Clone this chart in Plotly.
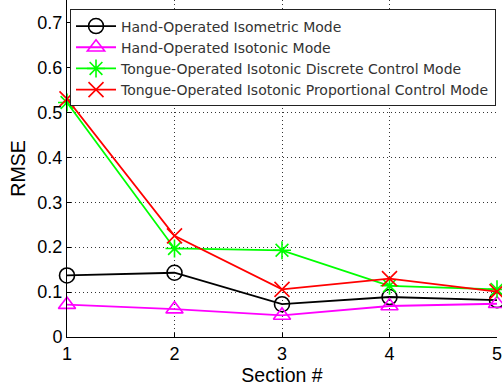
import plotly.graph_objects as go

sections = [1, 2, 3, 4, 5]
hand_isometric = [0.137, 0.143, 0.073, 0.089, 0.082]
hand_isotonic = [0.072, 0.062, 0.048, 0.069, 0.074]
tongue_discrete = [0.522, 0.197, 0.193, 0.114, 0.106]
tongue_proportional = [0.530, 0.225, 0.106, 0.130, 0.101]

series = [
    ("Hand-Operated Isometric Mode", hand_isometric, "#000000", "circle-open"),
    ("Hand-Operated Isotonic Mode", hand_isotonic, "#FF00FF", "triangle-up-open"),
    ("Tongue-Operated Isotonic Discrete Control Mode", tongue_discrete, "#00FF00", "asterisk-open"),
    ("Tongue-Operated Isotonic Proportional Control Mode", tongue_proportional, "#FF0000", "x-thin-open"),
]

fig = go.Figure()
for name, vals, color, sym in series:
    fig.add_trace(go.Scatter(
        x=sections, y=vals, name=name, mode="lines+markers",
        line=dict(color=color, width=1.8),
        marker=dict(symbol=sym, size=15, color=color, line=dict(color=color, width=1.6)),
        cliponaxis=False,
    ))

tick_font = dict(family="Arial, Liberation Sans, sans-serif", size=18, color="black")
title_font = dict(family="Arial, Liberation Sans, sans-serif", size=19.5, color="black")
grid_style = dict(showgrid=True, gridcolor="#333333", griddash="1px,3px", gridwidth=1)

fig.update_layout(
    width=502, height=389,
    margin=dict(l=67, r=3, t=0, b=52),
    paper_bgcolor="white", plot_bgcolor="white",
    font=dict(family="Arial, Liberation Sans, sans-serif", color="black"),
    showlegend=True,
    legend=dict(
        x=0.007, y=0.972, xanchor="left", yanchor="top",
        bgcolor="white", bordercolor="#222222", borderwidth=1,
        font=dict(family="DejaVu Sans, sans-serif", size=14, color="#333333"),
        tracegroupgap=0, itemwidth=40,
    ),
    xaxis=dict(
        range=[1, 5], tickvals=sections, ticktext=[str(s) for s in sections],
        tickfont=tick_font, ticks="inside", ticklen=4, tickcolor="black",
        ticklabeloverflow="allow",
        showline=True, linecolor="black", linewidth=1,
        zeroline=False,
        title=dict(text="Section #", font=title_font, standoff=2),
        **grid_style,
    ),
    yaxis=dict(
        range=[0, 0.75], tickvals=[0, 0.1, 0.2, 0.3, 0.4, 0.5, 0.6, 0.7],
        ticktext=["0", "0.1", "0.2", "0.3", "0.4", "0.5", "0.6", "0.7"],
        tickfont=tick_font, ticks="inside", ticklen=4, tickcolor="black",
        showline=True, linecolor="black", linewidth=1,
        zeroline=False,
        title=dict(text="RMSE", font=title_font, standoff=6),
        **grid_style,
    ),
)

fig.write_html("out.html")
